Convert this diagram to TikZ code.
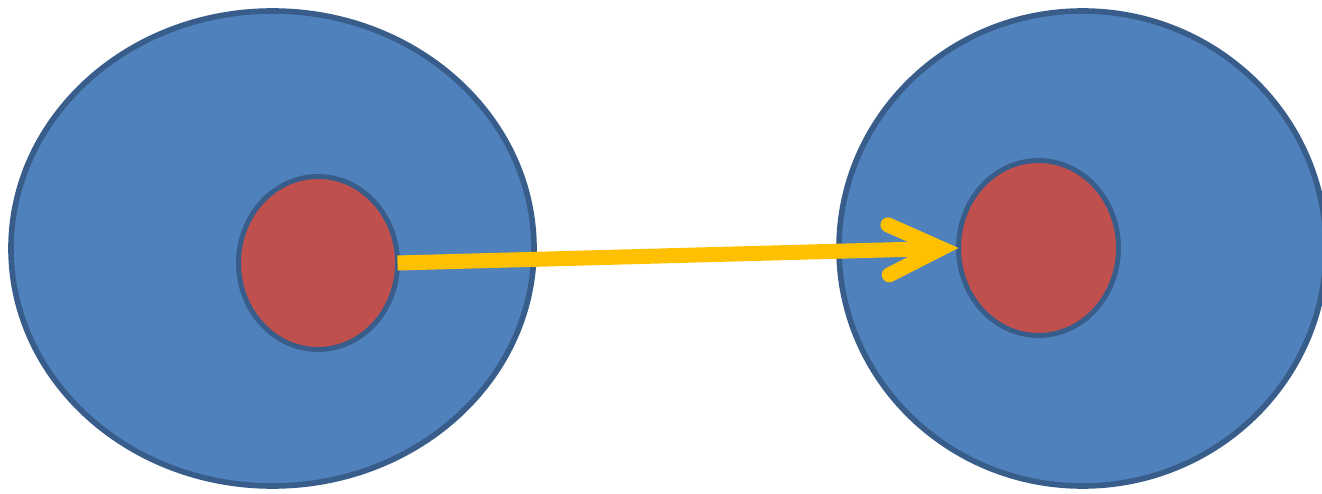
\documentclass[tikz,border=0pt]{standalone}
\usepackage{tikz}
\usetikzlibrary{arrows.meta,shapes.geometric}
\definecolor{cellfill}{HTML}{4F81BD}
\definecolor{cellline}{HTML}{385D8A}
\definecolor{corefill}{HTML}{C0504D}
\definecolor{jump}{HTML}{FFC000}

\begin{document}
\begin{tikzpicture}[cell/.style={ellipse,draw=cellline,fill=cellfill,line width=3.2pt,inner sep=0pt,outer sep=0pt},
  core/.style={ellipse,draw=cellline,fill=corefill,line width=2.8pt,inner sep=0pt,outer sep=0pt}]
  \useasboundingbox (0,0) rectangle (26.44,-9.88);
  \node[cell,minimum width=10.46cm,minimum height=9.5cm] (cellA) at (5.45,-4.97){};
  \node[cell,minimum width=9.74cm,minimum height=9.5cm] (cellB) at (21.65,-4.97){};
  \node[core,minimum width=3.18cm,minimum height=3.46cm] (coreA) at (6.36,-5.26){};
  \node[core,minimum width=3.2cm,minimum height=3.5cm] (coreB) at (20.77,-4.96){};
  \draw[jump,line width=0.3cm,-{Straight Barb[length=1.05cm,width=1.0cm,line cap=round,line join=miter]}] (coreA.east) -- (coreB.west);
\end{tikzpicture}
\end{document}
